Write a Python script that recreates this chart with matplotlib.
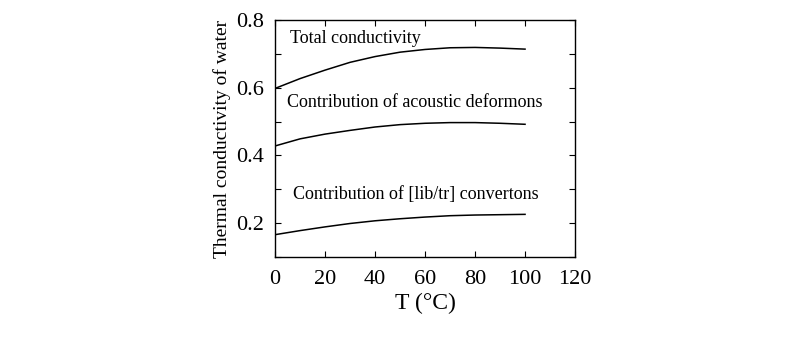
import matplotlib
matplotlib.use("Agg")
import matplotlib.pyplot as plt
from matplotlib.ticker import MultipleLocator

plt.rcParams['font.family'] = ['Liberation Serif', 'DejaVu Serif']

# temperatura (C) y conductividades
temp = [0, 10, 20, 30, 40, 50, 60, 70, 80, 90, 100]
total = [0.598, 0.627, 0.652, 0.675, 0.692, 0.705, 0.713, 0.718, 0.719, 0.717, 0.714]
acustico = [0.428, 0.449, 0.463, 0.474, 0.484, 0.491, 0.495, 0.497, 0.497, 0.495, 0.492]
libtr = [0.166, 0.178, 0.189, 0.199, 0.207, 0.213, 0.218, 0.222, 0.224, 0.225, 0.226]

etiquetas = ["Total conductivity",
             "Contribution of acoustic deformons",
             "Contribution of [lib/tr] convertons"]
pos_etiquetas = [(6, 0.746), (4.8, 0.556), (7.2, 0.285)]

xticks = [0, 20, 40, 60, 80, 100, 120]
yticks = [0.2, 0.4, 0.6, 0.8]

fig = plt.figure(figsize=(8.02, 3.42), dpi=100)
ax = fig.add_axes([0.343, 0.2485, 0.374, 0.693])

for serie in (total, acustico, libtr):
    ax.plot(temp, serie, color="black", lw=1.1)

for txt, (x, y) in zip(etiquetas, pos_etiquetas):
    ax.text(x, y, txt, fontsize=13, va="center", ha="left")

ax.set_xlim(0, 120)
ax.set_ylim(0.1, 0.8)
ax.set_xticks(xticks)
ax.set_yticks(yticks)
ax.yaxis.set_minor_locator(MultipleLocator(0.1))
ax.tick_params(which="both", direction="in", top=True, right=True,
               labelsize=16, length=4, width=0.8)
ax.tick_params(axis="x", pad=9)
ax.tick_params(axis="y", pad=8)
ax.set_xlabel("T (°C)", fontsize=17, labelpad=3)
ax.set_ylabel("Thermal conductivity of water", fontsize=14, labelpad=4)
for s in ax.spines.values():
    s.set_linewidth(1.0)

fig.savefig("out.png", dpi=100)
